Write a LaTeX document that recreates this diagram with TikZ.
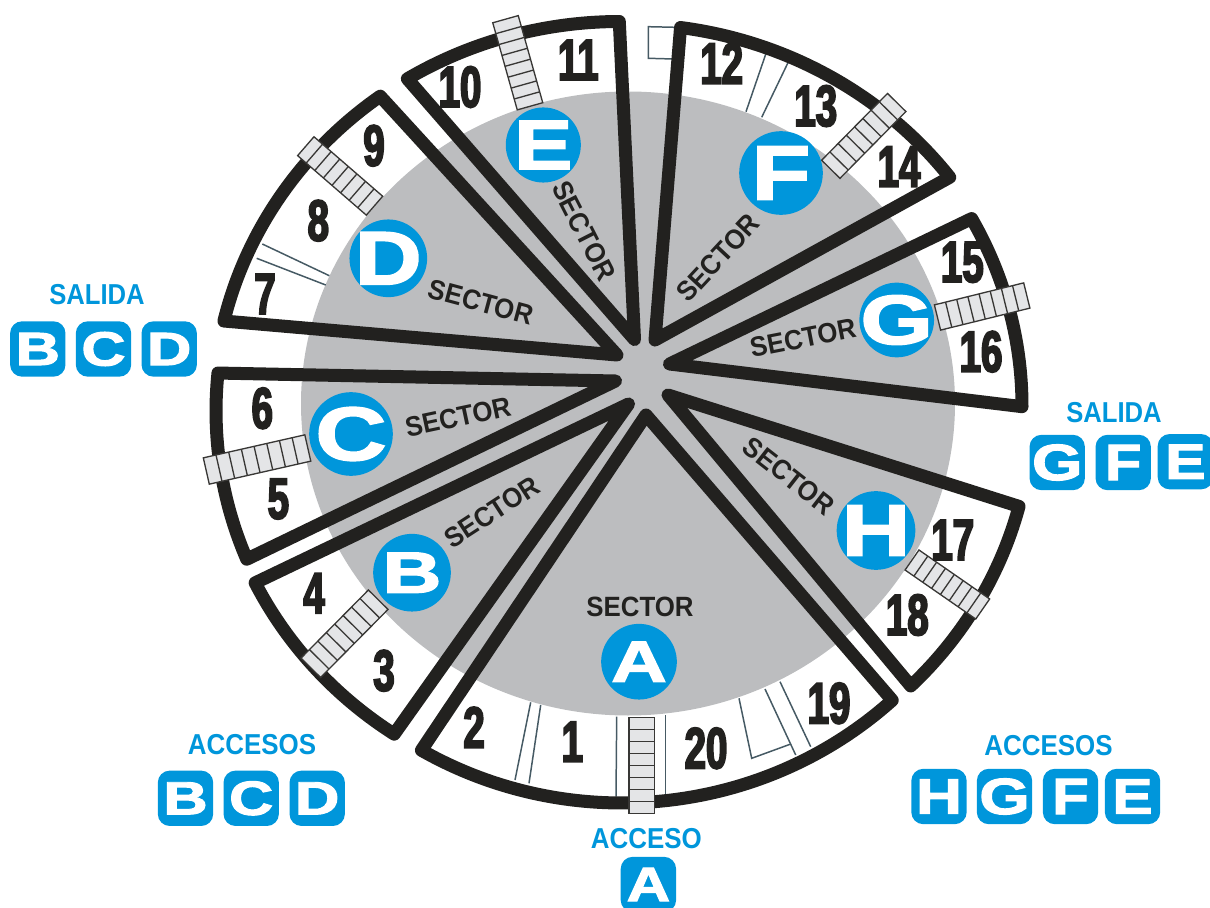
\documentclass[tikz,border=0pt]{standalone}
\usepackage{fontspec}
\usepackage{graphicx}
\usetikzlibrary{calc}
\setmainfont{Liberation Sans}
\newfontfamily\boldf[UprightFont=* Bold]{Liberation Sans}
\newfontfamily\numf[UprightFont=* Bold,FakeStretch=0.66,FakeBold=3]{Liberation Sans}
\newfontfamily\letf[UprightFont=* Bold,FakeBold=2]{Liberation Sans}
\definecolor{inkc}{HTML}{22211F}
\definecolor{bluec}{HTML}{0096DB}
\definecolor{grayc}{HTML}{BCBDBF}
\definecolor{stairc}{HTML}{E4E5E7}
\definecolor{thinc}{HTML}{465A64}
\newcommand\capfont[2]{\fontsize{\fpeval{#1*0.83}}{\fpeval{#1*0.9}}#2\selectfont}
\newcommand\letr[3]{{\capfont{#1}{\letf}\scalebox{#2}[1]{#3}}}
\newcommand\seclabel[2]{\node[sectxt,rotate=#2] (lab#1) at (#1) {\scalebox{1}[1.08]{SECTOR}};}
\newcommand\discnode[7]{%
  \node[disc=#2] (d#1) at (#3,#4) {};
  \node[inner sep=0pt,text=white] (l#1) at (d#1) {\letr{#5}{#6}{#7}};}
\newcommand\sectorwedge[8]{%
  \draw[wedgeline] (#1,#2) -- ({#5+#7*cos(#3)},{#6+#8*sin(#3)})
    arc[start angle=#3,end angle=#4,x radius=#7,y radius=#8] -- cycle;}
\newcommand\stairway[5]{%
  \coordinate (s) at (#1,#2);
  \coordinate (t) at (#3,#4);
  \coordinate (sa) at ($(s)!{#5*0.01cm}!90:(t)$);
  \coordinate (sb) at ($(s)!{#5*0.01cm}!-90:(t)$);
  \coordinate (ta) at ($(t)!{#5*0.01cm}!-90:(s)$);
  \coordinate (tb) at ($(t)!{#5*0.01cm}!90:(s)$);
  \draw[stairline,fill=stairc] (sa) -- (ta) -- (tb) -- (sb) -- cycle;
  \foreach \k in {1,...,7}{\draw[stairline] ($(sa)!\k/8!(ta)$) -- ($(sb)!\k/8!(tb)$);}}
\tikzset{
  wedgeline/.style={draw=inkc,line width=7.4pt,line join=round},
  thinline/.style={draw=thinc,line width=0.85pt},
  stairline/.style={draw=inkc!90!white,line width=0.75pt},
  numtxt/.style={text=inkc,inner sep=0pt,font=\capfont{40}{\numf}},
  sectxt/.style={text=inkc,inner sep=0pt,font=\fontsize{14.7}{16}\boldf\selectfont},
  bluetxt/.style={text=bluec,inner sep=0pt,font=\fontsize{16.4}{17}\boldf\selectfont},
  disc/.style={circle,fill=bluec,inner sep=0pt,minimum size=#1*0.5669pt*2},
  sq/.style={fill=bluec,rounded corners=6.8pt,inner sep=0pt,text=white,minimum size=31.5pt}
}
\begin{document}
\begin{tikzpicture}[x=0.02cm,y=-0.02cm]
\useasboundingbox (0,0) rectangle (1210,908);
\fill[grayc] (628,403.5) ellipse [x radius=327,y radius=312];
% thin partition lines
\draw[thinline] (675,27.3) -- (648.3,26.7) -- (648.3,58.3) -- (673,59);
\draw[thinline] (768.3,46.7) -- (746,111.7);
\draw[thinline] (791.7,55) -- (761.7,117.3);
\draw[thinline] (262.3,244) -- (329.3,275.7);
\draw[thinline] (256.7,258.3) -- (325.7,285);
\draw[thinline] (530.7,702.3) -- (515,780);
\draw[thinline] (540.7,705) -- (529,783.3);
\draw[thinline] (616.7,716.7) -- (616,796.7);
\draw[thinline] (665.3,715) -- (665.3,795);
\draw[thinline] (739,698.3) -- (751.7,758.3) -- (790,744.3);
\draw[thinline] (765,689) -- (795.7,755);
\draw[thinline] (780,681.7) -- (810.7,746.7);
% wedges: tip x, tip y, start and end angle, arc centre, arc radii
\sectorwedge{634.5}{339.5}{238.5}{269.9}{620}{410.5}{407}{389}
\sectorwedge{655}{340}{277.7}{322.7}{626}{413}{407}{389}
\sectorwedge{669.5}{364}{331.2}{360.1}{615}{406}{407}{389}
\sectorwedge{668}{395}{14.5}{45.4}{625}{409}{407}{389}
\sectorwedge{646}{415}{47.5}{120.1}{622}{412}{400}{391}
\sectorwedge{628.5}{404}{123.7}{153.7}{620}{410.5}{407}{389}
\sectorwedge{615.5}{381}{157.6}{185.6}{623}{411}{407}{389}
\sectorwedge{617}{355}{193.3}{233.9}{620}{410.5}{407}{389}
% stairs
\stairway{505.5}{19.2}{530}{106.3}{26.5}
\stairway{896.7}{102.5}{830.8}{169.3}{25.8}
\stairway{1026.8}{295.5}{937.5}{317.5}{26}
\stairway{982.7}{609}{912}{560}{24.4}
\stairway{641.7}{813.3}{641.7}{717.3}{25.3}
\stairway{310.8}{667.8}{378.2}{599.7}{27.6}
\stairway{206.3}{471}{307.8}{448}{27}
\stairway{305.8}{146.2}{374.5}{205.7}{25}
% sector discs
\discnode{E}{37.7}{543.3}{145}{48}{1.25}{E}
\discnode{F}{42}{781}{173}{53}{1.25}{F}
\discnode{G}{37.5}{896.7}{320}{48}{1.33}{G}
\discnode{H}{39.5}{876}{530.5}{50}{1.3}{H}
\discnode{A}{38}{639}{661.7}{40}{1.32}{A}
\discnode{B}{39}{412}{572.7}{40}{1.4}{B}
\discnode{C}{42}{351}{434}{52}{1.3}{C}
\discnode{D}{39}{388.3}{258.3}{52}{1.22}{D}
% SECTOR labels
\coordinate (pE) at (584,231);
\coordinate (pF) at (718,258);
\coordinate (pG) at (803,338);
\coordinate (pH) at (789,476);
\coordinate (pA) at (640,607);
\coordinate (pB) at (492,512);
\coordinate (pC) at (458,417);
\coordinate (pD) at (481,302);
\seclabel{pE}{-63}
\seclabel{pF}{47}
\seclabel{pG}{11}
\seclabel{pH}{-38}
\seclabel{pA}{0}
\seclabel{pB}{33}
\seclabel{pC}{12}
\seclabel{pD}{-15}
% seat numbers
\node[numtxt] (n1) at (572.3,741.7) {1};
\node[numtxt] (n2) at (474,727.3) {2};
\node[numtxt] (n3) at (384,670.7) {3};
\node[numtxt] (n4) at (314,593.3) {4};
\node[numtxt] (n5) at (278.3,499) {5};
\node[numtxt] (n6) at (262.3,408.3) {6};
\node[numtxt] (n7) at (265,294) {7};
\node[numtxt] (n8) at (318.3,220.7) {8};
\node[numtxt] (n9) at (374,145.7) {9};
\node[numtxt] (n10) at (460,87) {10};
\node[numtxt] (n11) at (578.3,60) {11};
\node[numtxt] (n12) at (721.7,63.3) {12};
\node[numtxt] (n13) at (815.7,106) {13};
\node[numtxt] (n14) at (899,166.7) {14};
\node[numtxt] (n15) at (962.3,262.3) {15};
\node[numtxt] (n16) at (981,351.7) {16};
\node[numtxt] (n17) at (952.7,540) {17};
\node[numtxt] (n18) at (907.3,615) {18};
\node[numtxt] (n19) at (829,703.3) {19};
\node[numtxt] (n20) at (706,748.3) {20};
% legend captions
\node[bluetxt] (t1) at (97,295) {\scalebox{0.89}[1]{SALIDA}};
\node[bluetxt] (t2) at (1114,413) {\scalebox{0.89}[1]{SALIDA}};
\node[bluetxt] (t3) at (252,745) {\scalebox{0.9}[1]{ACCESOS}};
\node[bluetxt] (t4) at (1048.5,746) {\scalebox{0.9}[1]{ACCESOS}};
\node[bluetxt] (t5) at (646.3,839) {\scalebox{0.9}[1]{ACCESO}};
% legend squares
\node[sq] (s1) at (37.8,349) {\letr{32}{1.32}{B}};
\node[sq] (s2) at (103.5,349) {\letr{33}{1.27}{C}};
\node[sq] (s3) at (169.2,349) {\letr{32}{1.32}{D}};
\node[sq] (s4) at (1057.2,462.5) {\letr{35}{1.27}{G}};
\node[sq] (s5) at (1123.2,462.5) {\letr{35}{1.17}{F}};
\node[sq] (s6) at (1185.4,461.7) {\letr{34}{1.22}{E}};
\node[sq] (s7) at (185.5,798.3) {\letr{32}{1.32}{B}};
\node[sq] (s8) at (251.2,798.3) {\letr{33}{1.27}{C}};
\node[sq] (s9) at (317.2,798.3) {\letr{32}{1.32}{D}};
\node[sq] (s10) at (939,796.5) {\letr{34}{1.28}{H}};
\node[sq] (s11) at (1004.5,796.5) {\letr{35}{1.27}{G}};
\node[sq] (s12) at (1070.5,796.5) {\letr{35}{1.17}{F}};
\node[sq] (s13) at (1132.5,796.5) {\letr{34}{1.22}{E}};
\node[sq] (s14) at (648.4,884.5) {\letr{33}{1.25}{A}};
\end{tikzpicture}
\end{document}
